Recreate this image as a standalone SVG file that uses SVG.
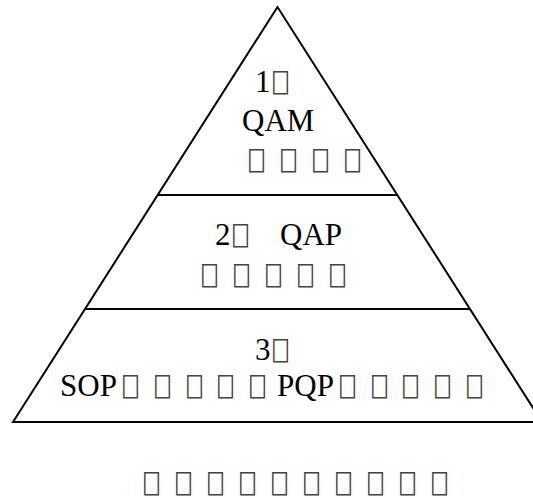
<svg xmlns="http://www.w3.org/2000/svg" width="533" height="498" viewBox="0 0 533 498">
  <style>
    .edge { stroke: #000; stroke-width: 2; fill: none; }
    .lbl { font-family: "Liberation Serif", "Times New Roman", serif; font-size: 31px; fill: #000; }
    .box { font-family: "DejaVu Sans Mono", monospace; font-size: 25px; fill: #444; }
  </style>
  <rect width="533" height="498" fill="#fff"/>
  <g id="connectors">
    <!-- pyramid outline -->
    <path class="edge" d="M13,422 L277.5,7 L542,422 Z"/>
    <!-- tier dividers -->
    <line class="edge" x1="158" y1="195" x2="397" y2="195"/>
    <line class="edge" x1="85" y1="309" x2="470" y2="309"/>
  </g>
  <g id="tier1">
    <text class="lbl" x="255" y="92">1</text>
    <text class="box" x="273" y="92">⎕</text>
    <text class="lbl" x="242" y="131">QAM</text>
    <text class="box" x="249 281 313 345" y="170">⎕⎕⎕⎕</text>
  </g>
  <g id="tier2">
    <text class="lbl" x="215" y="245">2</text>
    <text class="box" x="233" y="245">⎕</text>
    <text class="lbl" x="280" y="245">QAP</text>
    <text class="box" x="202 234 266 298 330" y="285">⎕⎕⎕⎕⎕</text>
  </g>
  <g id="tier3">
    <text class="lbl" x="255" y="360">3</text>
    <text class="box" x="273" y="360">⎕</text>
    <text class="lbl" x="60" y="396">SOP</text>
    <text class="box" x="123 155 187 218 250" y="396">⎕⎕⎕⎕⎕</text>
    <text class="lbl" x="277" y="396">PQP</text>
    <text class="box" x="340 372 403 435 467" y="396">⎕⎕⎕⎕⎕</text>
  </g>
  <g id="caption">
    <text class="box" x="144 176 208 240 272 304 336 368 400 432" y="493">⎕⎕⎕⎕⎕⎕⎕⎕⎕⎕</text>
  </g>
</svg>
